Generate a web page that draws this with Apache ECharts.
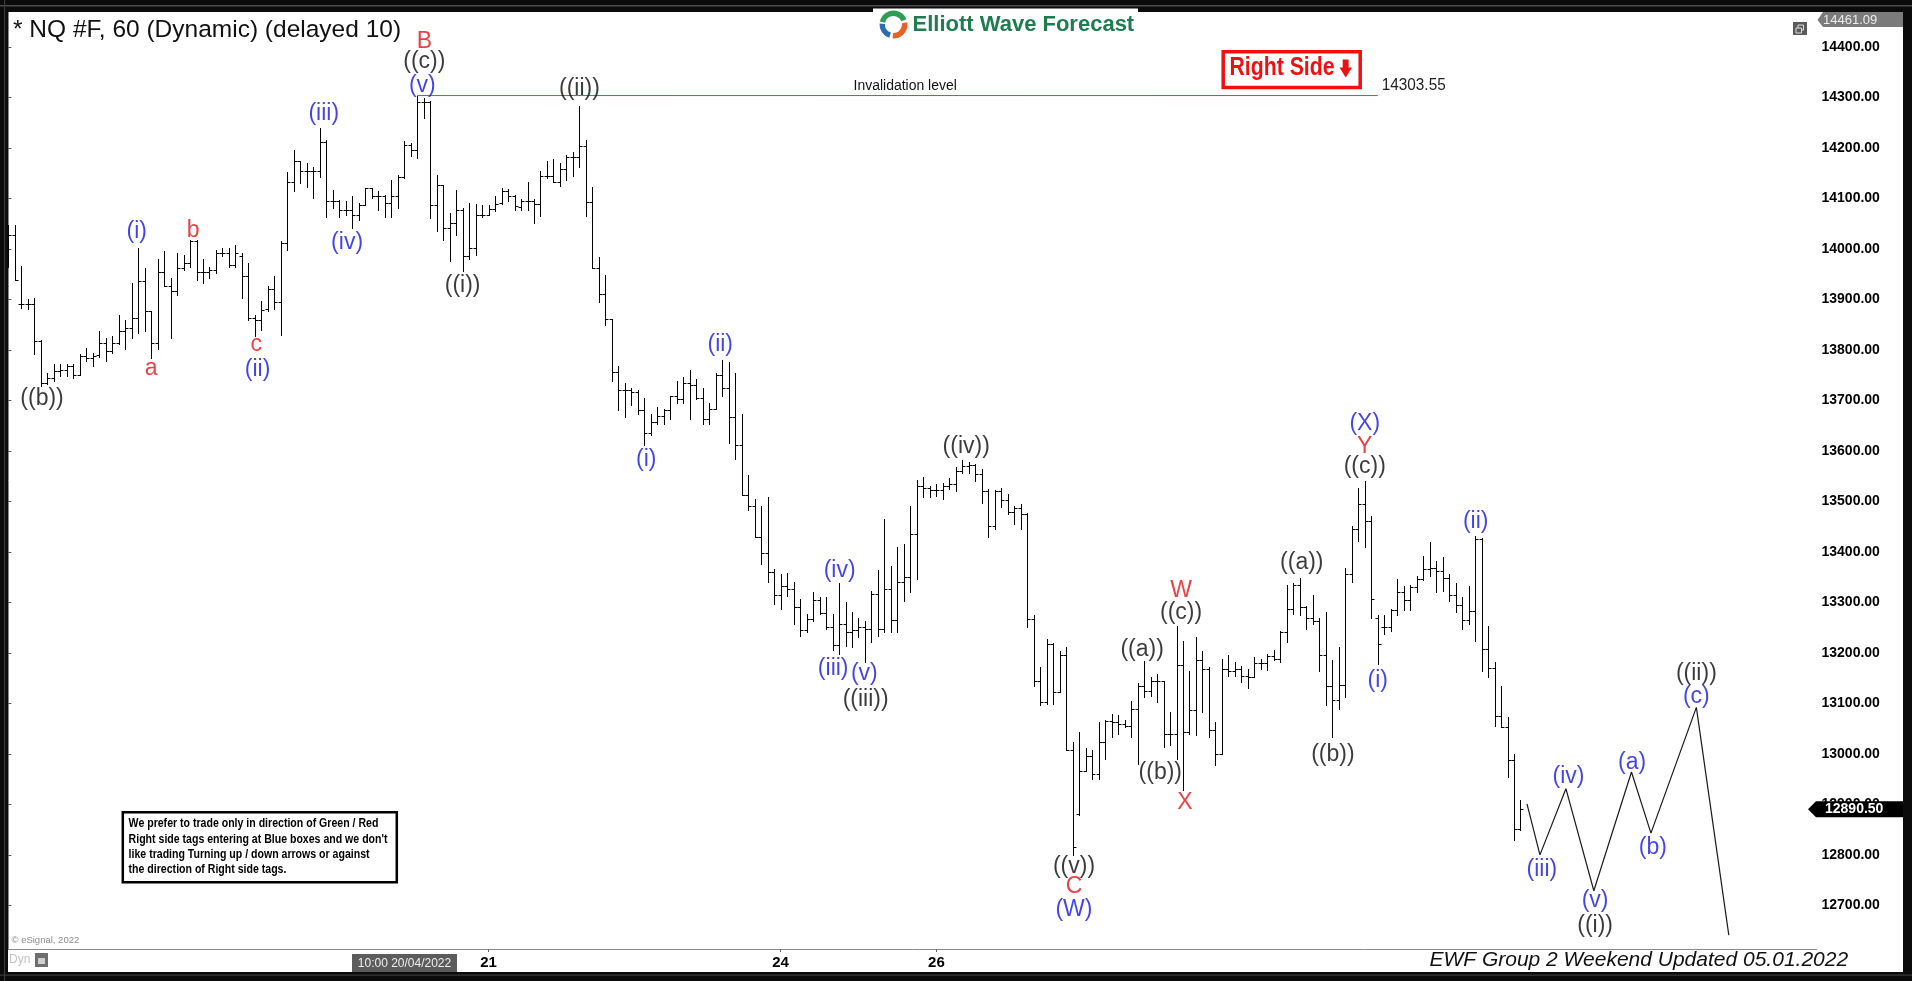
<!DOCTYPE html>
<html><head><meta charset="utf-8">
<script src="https://cdn.jsdelivr.net/npm/echarts@6/dist/echarts.min.js"></script>
<style>html,body{margin:0;padding:0;background:#000;overflow:hidden}#c{width:1912px;height:981px}</style>
</head><body><div id="c"></div>
<script>
// ---- hourly OHLC bars (NQ #F, 60 min) ----
const opens = [14030,14028,13891,13891,13891,13817,13735,13745,13758,13761,13768,13751,13788,13784,13790,13814,13797,13814,13837,13843,
13863,13937,13876,13814,13955,13926,13916,13962,13972,14015,13955,13955,13959,13992,13992,13969,13985,13946,13863,13860,
13880,13921,13895,14011,14133,14173,14154,14154,14154,14212,14094,14094,14077,14077,14067,14087,14120,14104,14104,14091,
14104,14143,14206,14196,14291,14291,14086,14127,14041,14051,14077,13985,14002,14067,14067,14079,14091,14114,14104,14082,
14094,14094,14088,14144,14144,14133,14159,14181,14181,14203,14092,13962,13910,13861,13757,13720,13720,13716,13681,13635,
13658,13670,13681,13709,13702,13735,13731,13705,13664,13683,13750,13724,13668,13612,13512,13490,13430,13397,13360,13315,
13333,13326,13290,13245,13267,13305,13278,13251,13216,13257,13241,13245,13251,13247,13316,13247,13326,13265,13340,13351,
13435,13531,13526,13522,13522,13531,13534,13560,13570,13572,13554,13521,13452,13521,13502,13478,13486,13475,13267,13145,
13102,13218,13123,13195,13008,12880,12966,12995,12961,13023,13065,13063,13060,13056,13089,13135,13125,13144,13144,13039,
13039,13175,13043,13086,13186,13168,13048,13000,13168,13165,13168,13155,13153,13180,13180,13193,13188,13241,13287,13335,
13290,13270,13264,13195,13135,13106,13137,13356,13445,13494,13461,13270,13252,13252,13285,13320,13305,13331,13346,13366,
13369,13363,13348,13315,13295,13265,13282,13425,13208,13170,13074,13053,12987,12852];
const highs = [14048,14048,13967,13900,13902,13820,13754,13771,13771,13771,13771,13791,13804,13794,13838,13824,13827,13870,13860,13932,
14002,13962,13876,13979,13995,13942,13992,13988,14018,14018,13979,13965,13998,14002,14002,14008,13992,13972,13870,13896,
13926,13946,14015,14153,14196,14173,14170,14163,14239,14216,14117,14097,14094,14104,14091,14121,14120,14114,14107,14137,
14147,14214,14209,14303.5,14298,14293,14147,14127,14071,14117,14081,14091,14089,14087,14087,14104,14121,14119,14107,14099,
14133,14099,14155,14174,14177,14170,14185,14192,14282,14216,14122,13984,13948,13861,13769,13735,13724,13720,13705,13672,
13687,13683,13709,13739,13746,13760,13743,13724,13694,13754,13780,13776,13754,13672,13553,13505,13490,13508,13367,13356,
13359,13340,13307,13277,13320,13310,13310,13277,13338,13300,13280,13270,13264,13323,13364,13465,13372,13409,13415,13491,
13542,13548,13531,13534,13537,13547,13568,13581,13577,13573,13564,13524,13522,13527,13514,13491,13494,13476,13274,13172,
13228,13219,13204,13212,13023,13043,13012,13008,13063,13067,13078,13076,13067,13104,13140,13183,13152,13158,13145,13083,
13254,13224,13165,13231,13204,13172,13063,13188,13195,13181,13173,13168,13191,13188,13198,13206,13244,13335,13338,13349,
13293,13315,13270,13280,13185,13211,13369,13452,13527,13540,13471,13274,13274,13287,13346,13333,13335,13353,13392,13419,
13382,13389,13356,13338,13310,13333,13432,13428,13254,13181,13135,13073,12999,12908];
const lows = [13965,13939,13883,13880,13791,13728,13733,13738,13748,13748,13745,13751,13778,13768,13786,13778,13794,13811,13801,13824,
13834,13837,13784,13801,13926,13824,13909,13959,13965,13939,13932,13942,13952,13985,13965,13965,13903,13860,13827,13840,
13876,13880,13830,13998,14114,14130,14123,14100,14143,14064,14081,14064,14067,14041,14058,14087,14100,14077,14064,14064,
14081,14140,14183,14179,14259,14061,14035,14018,13975,14028,13956,13979,13988,14064,14067,14074,14089,14094,14077,14077,
14077,14051,14066,14140,14133,14125,14137,14144,14163,14066,13962,13895,13850,13739,13680,13668,13690,13672,13612,13631,
13653,13653,13664,13694,13694,13664,13702,13653,13653,13683,13709,13616,13583,13512,13482,13430,13375,13341,13296,13287,
13313,13257,13234,13241,13264,13277,13247,13205,13198,13214,13211,13231,13181,13221,13234,13241,13241,13241,13303,13320,
13346,13508,13508,13511,13504,13524,13521,13557,13557,13540,13496,13430,13445,13488,13475,13456,13445,13251,13135,13096,
13099,13098,13122,13007,12799,12878,12966,12951,12951,12990,13033,13040,13053,13033,12979,13112,13114,13102,13013,13017,
12990,12928,13040,13037,13083,13033,12977,13000,13155,13155,13142,13131,13152,13168,13166,13185,13181,13221,13277,13274,
13247,13257,13165,13096,13033,13089,13112,13340,13422,13409,13270,13177,13237,13243,13274,13284,13284,13320,13345,13353,
13320,13322,13303,13280,13247,13257,13224,13165,13152,13056,13053,12954,12829,12849];
const closes = [14028,13939,13891,13891,13817,13735,13745,13758,13761,13768,13751,13788,13784,13788,13814,13797,13814,13837,13843,13863,
13937,13876,13814,13955,13926,13916,13962,13972,14015,13955,13955,13959,13992,13992,13969,13992,13946,13863,13860,13878,
13921,13895,14011,14133,14173,14154,14154,14154,14212,14094,14094,14077,14077,14067,14087,14120,14104,14104,14091,14104,
14143,14206,14196,14291,14291,14086,14127,14041,14051,14077,13985,14002,14067,14067,14079,14089,14114,14104,14084,14094,
14094,14088,14144,14144,14133,14159,14181,14181,14203,14092,13962,13910,13861,13757,13720,13720,13716,13681,13635,13658,
13670,13681,13709,13702,13735,13731,13705,13664,13683,13750,13724,13668,13612,13512,13490,13430,13397,13360,13315,13333,
13326,13290,13245,13267,13305,13278,13251,13216,13257,13241,13245,13251,13247,13316,13247,13326,13265,13340,13351,13435,
13531,13526,13522,13522,13531,13534,13560,13570,13572,13554,13521,13452,13521,13502,13478,13486,13475,13267,13145,13102,
13218,13123,13195,13008,12816,12966,12995,12961,13023,13065,13063,13060,13056,13089,13135,13125,13144,13144,13039,13039,
13175,13043,13086,13186,13168,13048,13000,13168,13165,13168,13155,13153,13180,13180,13193,13188,13241,13287,13335,13290,
13270,13264,13195,13135,13106,13137,13356,13445,13494,13461,13307,13218,13252,13285,13320,13305,13331,13346,13366,13369,
13363,13348,13315,13295,13265,13282,13425,13208,13170,13074,13053,12987,12852,12890.5];

// ---- axis ticks ----
const xTickIndex = [74, 119, 143];
const xTickText = ['21', '24', '26'];
const yTickValues = [12700,12800,12900,13000,13100,13200,13300,13400,13500,13600,13700,13800,13900,14000,14100,14200,14300,14400];

// ---- invalidation level ----
const invalidationLevel = 14303.55;
const invalidationFrom = 63, invalidationTo = 211;

// ---- projected path (bar index, price) ----
const projX = [234, 236, 240, 244.3, 250.1, 253.1, 260.1, 265.1];
const projY = [12901, 12800, 12931, 12729, 12964, 12843, 13092, 12641];

// ---- wave labels ----
const waveText = ['((b))','(i)','a','b','c','(ii)','(iii)','(iv)','B','((c))','(v)','((i))','((ii))',
  '(i)','(ii)','(iv)','(iii)','(v)','((iii))','((iv))','((v))','C','(W)','((a))','((b))','W','((c))','X',
  '((a))','((b))','(X)','Y','((c))','(i)','(ii)','(iii)','(iv)','(v)','((i))','(a)','(b)','(c)','((ii))'];
const waveX = [5.2,19.8,22.0,28.5,38.2,38.4,48.6,52.2,64.1,64.1,63.8,70.0,88.0,
  98.3,109.7,128.1,127.1,131.9,132.1,147.6,164.2,164.2,164.2,174.7,177.5,180.7,180.7,181.3,
  199.3,204.1,209.0,209.0,209.0,211.0,226.1,236.3,240.4,244.5,244.5,250.2,253.4,260.1,260.1];
const waveY = [13704,14034,13763,14037,13810,13761,14268,14012,14410,14371,14324,13928,14318,
  13583,13810,13363,13169,13159,13107,13609,12776,12738,12692,13206,12963,13323,13279,12903,
  13378,12998,13653,13609,13569,13145,13460,12770,12954,12710,12659,12983,12814,13114,13158];
const waveColor = ['k','b','r','r','r','b','b','b','r','k','b','k','k',
  'b','b','b','b','b','k','k','k','r','b','k','k','r','k','r',
  'k','k','b','r','k','b','b','b','b','b','k','b','b','b','k'];

const FONT = "'Liberation Sans', Arial, Helvetica, sans-serif";
const COL = {k:'#0a0a0a', b:'#1414e0', r:'#e3121a'};

const chart = echarts.init(document.getElementById('c'), null, {renderer:'canvas', width:1912, height:981});

const ohlcData = opens.map((o, i) => [i, o, closes[i], lows[i], highs[i]]);

function renderOHLC(params, api) {
  const i = api.value(0);
  const pO = api.coord([i, api.value(1)]);
  const pC = api.coord([i, api.value(2)]);
  const pL = api.coord([i, api.value(3)]);
  const pH = api.coord([i, api.value(4)]);
  const x = Math.round(pH[0]) + 0.5;
  const yo = Math.round(pO[1]) + 0.5, yc = Math.round(pC[1]) + 0.5;
  const st = {stroke:'#000', lineWidth:1};
  return {type:'group', children:[
    {type:'line', shape:{x1:x, y1:Math.round(pH[1]), x2:x, y2:Math.round(pL[1]) + 1}, style:st},
    {type:'line', shape:{x1:x - 3, y1:yo, x2:x, y2:yo}, style:st},
    {type:'line', shape:{x1:x, y1:yc, x2:x + 3, y2:yc}, style:st}
  ]};
}

const option = {
  animation: false,
  backgroundColor: '#ffffff',
  grid: {left: 8, right: 95.5, top: 12, height: 937, containLabel: false, outerBoundsMode: 'none', show: false},
  xAxis: {
    type: 'value', min: -0.046, max: 278.61,
    splitLine: {show: false},
    axisLine: {show: true, lineStyle: {color: '#8a8a8a', width: 1}},
    axisTick: {show: true, length: 3, customValues: xTickIndex, lineStyle: {color: '#666'}},
    axisLabel: {show: true, customValues: xTickIndex,
      formatter: v => { const k = xTickIndex.indexOf(Math.round(v)); return k >= 0 ? xTickText[k] : ''; },
      color: '#000', fontWeight: 'bold', fontSize: 15, margin: 6, fontFamily: FONT}
  },
  yAxis: {
    type: 'value', position: 'right', min: 12613.6, max: 14469,
    splitLine: {show: false},
    axisLine: {show: true, lineStyle: {color: '#8a8a8a', width: 1}},
    axisTick: {show: true, length: 3, customValues: yTickValues, lineStyle: {color: '#555'}},
    axisLabel: {show: true, customValues: yTickValues, formatter: v => Number(v).toFixed(2),
      color: '#000', fontWeight: 'bold', fontSize: 14, margin: 5, fontFamily: FONT}
  },
  series: [
    {type: 'custom', name: 'NQ', renderItem: renderOHLC, data: ohlcData, encode: {x: 0, y: [1, 2, 3, 4]}, silent: true, z: 3},
    {type: 'line', data: [[invalidationFrom, invalidationLevel], [invalidationTo, invalidationLevel]],
      symbol: 'none', silent: true, lineStyle: {color: '#e23a3a', width: 1}, z: 4},
    {type: 'line', data: projX.map((x, i) => [x, projY[i]]), symbol: 'none', silent: true, clip: false,
      lineStyle: {color: '#1a1a1a', width: 1.2}, z: 4},
    {type: 'scatter', symbolSize: 1, clip: false, silent: true, z: 5,
      itemStyle: {color: 'rgba(0,0,0,0)'},
      data: waveText.map((t, i) => ({value: [waveX[i], waveY[i]],
        label: {show: true, position: 'inside', formatter: t, color: COL[waveColor[i]], fontSize: 23, fontFamily: FONT}}))}
  ]
};
chart.setOption(option);

const yInv = chart.convertToPixel({yAxisIndex: 0}, invalidationLevel);
const yLast = chart.convertToPixel({yAxisIndex: 0}, closes[closes.length - 1]);

const Z = 100;
const BLK = '#0b0b0b';
const g = [];
// frame
g.push({type:'rect', z:Z, shape:{x:0,y:0,width:1912,height:12}, style:{fill:BLK}});
g.push({type:'rect', z:Z, shape:{x:0,y:0,width:8,height:981}, style:{fill:BLK}});
g.push({type:'rect', z:Z, shape:{x:1903,y:0,width:9,height:981}, style:{fill:BLK}});
g.push({type:'rect', z:Z, shape:{x:0,y:972,width:1912,height:9}, style:{fill:BLK}});
g.push({type:'rect', z:Z+1, shape:{x:0,y:5,width:1912,height:1.5}, style:{fill:'#4d4d4d'}});
g.push({type:'rect', z:Z+1, shape:{x:0,y:974.5,width:1912,height:1.2}, style:{fill:'#3a3a3a'}});
g.push({type:'rect', z:Z+1, shape:{x:4,y:0,width:1.2,height:981}, style:{fill:'#3a3a3a'}});
// logo
g.push({type:'rect', z:Z+2, shape:{x:873,y:8.5,width:265,height:4}, style:{fill:'#fff'}});
g.push({type:'sector', z:Z+2, shape:{cx:893.5,cy:24.5,r:14,r0:8.5,startAngle:-Math.PI*0.93,endAngle:-Math.PI*0.12}, style:{fill:'#2f9e55'}});
g.push({type:'sector', z:Z+2, shape:{cx:893.5,cy:24.5,r:14,r0:8.5,startAngle:-Math.PI*0.05,endAngle:Math.PI*0.52}, style:{fill:'#e8602a'}});
g.push({type:'sector', z:Z+2, shape:{cx:893.5,cy:24.5,r:14,r0:8.5,startAngle:Math.PI*0.6,endAngle:Math.PI*1.02}, style:{fill:'#2a6cb6'}});
g.push({type:'text', z:Z+2, x:912.5, y:25.3, style:{text:'Elliott Wave Forecast', font:"bold 22px " + FONT, fill:'#1e7d50', textAlign:'left', textVerticalAlign:'middle'}});
// title
g.push({type:'text', z:Z, x:13, y:30.5, style:{text:'* NQ #F, 60 (Dynamic) (delayed 10)', font:"24.5px " + FONT, fill:'#111', textAlign:'left', textVerticalAlign:'middle'}});
// Right Side box
g.push({type:'rect', z:Z, shape:{x:1223.2,y:51.8,width:137,height:35.7}, style:{fill:'#fff', stroke:'#ee1111', lineWidth:3.5}});
g.push({type:'text', z:Z, x:1229.5, y:68.3, scaleX:0.85, style:{text:'Right Side', font:"bold 25px " + FONT, fill:'#ee1111', textAlign:'left', textVerticalAlign:'middle'}});
g.push({type:'polygon', z:Z, shape:{points:[[1342.7,59.5],[1348.6,59.5],[1348.6,67.5],[1352,67.5],[1345.7,77.5],[1339.5,67.5],[1342.7,67.5]]}, style:{fill:'#ee1111'}});
// invalidation texts
g.push({type:'text', z:Z, x:853.6, y:yInv - 9.5, scaleX:0.9, style:{text:'Invalidation level', font:"15.5px " + FONT, fill:'#111', textAlign:'left', textVerticalAlign:'middle'}});
g.push({type:'text', z:Z, x:1381.7, y:yInv - 10, scaleX:0.93, style:{text:'14303.55', font:"16.5px " + FONT, fill:'#222', textAlign:'left', textVerticalAlign:'middle'}});
// top-right max tag and icon
g.push({type:'polygon', z:Z-1, shape:{points:[[1817.5,20],[1823,12],[1903,12],[1903,27],[1823,27]]}, style:{fill:'#7b7b7b'}});
g.push({type:'text', z:Z-1, x:1823, y:20, style:{text:'14461.09', font:"13px " + FONT, fill:'#ececec', textAlign:'left', textVerticalAlign:'middle'}});
g.push({type:'rect', z:Z, shape:{x:1793,y:22,width:14,height:13}, style:{fill:'#5a5a5a'}});
g.push({type:'rect', z:Z, shape:{x:1798,y:25,width:5.5,height:5}, style:{fill:'none', stroke:'#ddd', lineWidth:1}});
g.push({type:'rect', z:Z, shape:{x:1796,y:28,width:5.5,height:5}, style:{fill:'#5a5a5a', stroke:'#ddd', lineWidth:1}});
// last price tag
g.push({type:'polygon', z:Z, shape:{points:[[1808,yLast],[1816,yLast-8],[1903,yLast-8],[1903,yLast+8],[1816,yLast+8]]}, style:{fill:'#000'}});
g.push({type:'text', z:Z, x:1825, y:yLast, style:{text:'12890.50', font:"bold 14px " + FONT, fill:'#fff', textAlign:'left', textVerticalAlign:'middle'}});
// disclaimer
g.push({type:'rect', z:Z, shape:{x:122.8,y:812.2,width:274,height:70}, style:{fill:'#fff', stroke:'#000', lineWidth:2.5}});
const disc = ['We prefer to trade only in direction of Green / Red', "Right side tags entering at Blue boxes and we don't", 'like trading Turning up / down arrows or against', 'the direction of Right side tags.'];
disc.forEach((t, k) => g.push({type:'text', z:Z, x:128.6, y:824 + k * 15.2, scaleX:0.88, style:{text:t, font:"bold 12px " + FONT, fill:'#000', textAlign:'left', textVerticalAlign:'middle'}}));
// bottom-left texts
g.push({type:'text', z:Z, x:11.5, y:940.7, style:{text:'\u00A9 eSignal, 2022', font:"9.5px " + FONT, fill:'#8c8c8c', textAlign:'left', textVerticalAlign:'middle'}});
g.push({type:'text', z:Z, x:9, y:960, style:{text:'Dyn', font:"12px " + FONT, fill:'#c4c4c4', textAlign:'left', textVerticalAlign:'middle'}});
g.push({type:'rect', z:Z, shape:{x:35,y:953,width:13,height:14}, style:{fill:'#6e6e6e'}});
g.push({type:'rect', z:Z, shape:{x:38,y:958,width:7,height:6}, style:{fill:'#cfcfcf'}});
// cursor time box
g.push({type:'rect', z:Z, shape:{x:352,y:954,width:105,height:18}, style:{fill:'#5c5c5c'}});
g.push({type:'text', z:Z, x:404.5, y:963.5, style:{text:'10:00 20/04/2022', font:"12px " + FONT, fill:'#eeeeee', textAlign:'center', textVerticalAlign:'middle'}});
// footer
g.push({type:'text', z:Z, x:1429.4, y:960.5, style:{text:'EWF Group 2 Weekend Updated 05.01.2022', font:"italic 21px " + FONT, fill:'#111', textAlign:'left', textVerticalAlign:'middle'}});

chart.setOption({graphic: {elements: g}});
</script>
</body></html>
